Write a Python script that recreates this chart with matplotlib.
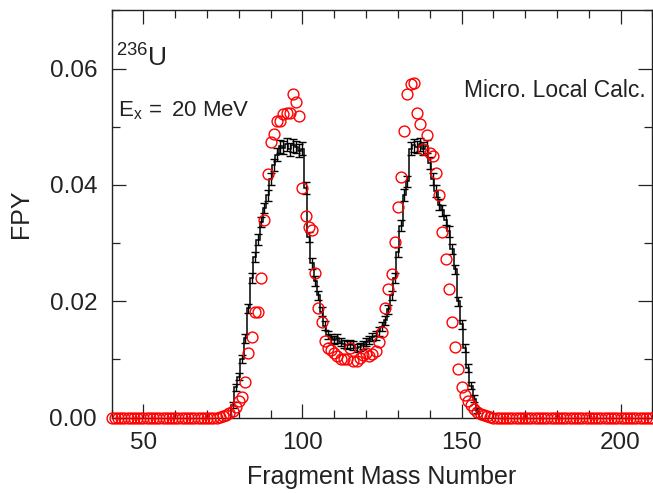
#!/usr/bin/env python3
import numpy as np
import matplotlib.pyplot as plt

plt.rcParams['font.family'] = ['Liberation Sans', 'DejaVu Sans']
plt.rcParams['mathtext.fontset'] = 'custom'
plt.rcParams['mathtext.rm'] = 'Liberation Sans'
plt.rcParams['mathtext.it'] = 'Liberation Sans:italic'

# microscopic local calculation, one value per mass number 40..210
calc_mass = np.arange(40, 211)
calc_nonzero = {
    74: 0.0001, 75: 0.0002, 76: 0.0004, 77: 0.0007, 78: 0.0011,
    79: 0.0018, 80: 0.0028, 81: 0.0036, 82: 0.0061, 83: 0.0111,
    84: 0.0139, 85: 0.0181, 86: 0.0181, 87: 0.0240, 88: 0.0339,
    89: 0.0418, 90: 0.0473, 91: 0.0487, 92: 0.0510, 93: 0.0510,
    94: 0.0521, 95: 0.0523, 96: 0.0524, 97: 0.0557, 98: 0.0543,
    99: 0.0518, 100: 0.0394, 101: 0.0347, 102: 0.0327, 103: 0.0322,
    104: 0.0248, 105: 0.0189, 106: 0.0164, 107: 0.0131, 108: 0.0120,
    109: 0.0116, 110: 0.0111, 111: 0.0105, 112: 0.0101, 113: 0.0100,
    114: 0.0100, 115: 0.0120, 116: 0.0098, 117: 0.0097, 118: 0.0102,
    119: 0.0108, 120: 0.0111, 121: 0.0106, 122: 0.0110, 123: 0.0114,
    124: 0.0130, 125: 0.0147, 126: 0.0188, 127: 0.0221, 128: 0.0247,
    129: 0.0301, 130: 0.0362, 131: 0.0413, 132: 0.0492, 133: 0.0556,
    134: 0.0573, 135: 0.0575, 136: 0.0524, 137: 0.0504, 138: 0.0462,
    139: 0.0485, 140: 0.0454, 141: 0.0450, 142: 0.0421, 143: 0.0383,
    144: 0.0319, 145: 0.0272, 146: 0.0221, 147: 0.0164, 148: 0.0122,
    149: 0.0083, 150: 0.0053, 151: 0.0038, 152: 0.0028, 153: 0.0021,
    154: 0.0014, 155: 0.0010, 156: 0.0006, 157: 0.0004, 158: 0.0002,
    159: 0.0001,
}
calc_fpy = np.array([calc_nonzero.get(a, 0.0) for a in calc_mass])

# reference histogram with uncertainties, mass numbers 78..155
ref_mass = np.arange(78, 156)
ref_fpy = np.array([
    0.0022, 0.0052, 0.0070, 0.0100, 0.0136, 0.0188, 0.0240, 0.0276,
    0.0306, 0.0336, 0.0360, 0.0382, 0.0410, 0.0434, 0.0452, 0.0466,
    0.0464, 0.0470, 0.0461, 0.0468, 0.0465, 0.0459, 0.0462, 0.0395,
    0.0310, 0.0265, 0.0235, 0.0210, 0.0182, 0.0158, 0.0142, 0.0136,
    0.0134, 0.0136, 0.0130, 0.0126, 0.0125, 0.0127, 0.0124, 0.0120,
    0.0122, 0.0125, 0.0130, 0.0134, 0.0138, 0.0141, 0.0148, 0.0156,
    0.0167, 0.0186, 0.0210, 0.0240, 0.0285, 0.0330, 0.0383, 0.0406,
    0.0462, 0.0468, 0.0465, 0.0470, 0.0462, 0.0466, 0.0438, 0.0410,
    0.0390, 0.0366, 0.0356, 0.0340, 0.0320, 0.0290, 0.0255, 0.0200,
    0.0160, 0.0120, 0.0085, 0.0055, 0.0032, 0.0012,
])
ref_err = np.array([
    0.0005, 0.0006, 0.0006, 0.0007, 0.0007, 0.0008, 0.0008, 0.0008,
    0.0009, 0.0009, 0.0009, 0.0009, 0.0010, 0.0010, 0.0011, 0.0011,
    0.0011, 0.0011, 0.0011, 0.0011, 0.0011, 0.0011, 0.0011, 0.0010,
    0.0009, 0.0009, 0.0009, 0.0008, 0.0008, 0.0008, 0.0007, 0.0007,
    0.0007, 0.0007, 0.0007, 0.0007, 0.0007, 0.0007, 0.0007, 0.0007,
    0.0007, 0.0007, 0.0007, 0.0007, 0.0007, 0.0007, 0.0007, 0.0008,
    0.0008, 0.0008, 0.0008, 0.0009, 0.0009, 0.0009, 0.0010, 0.0010,
    0.0011, 0.0011, 0.0011, 0.0011, 0.0011, 0.0011, 0.0010, 0.0010,
    0.0010, 0.0009, 0.0009, 0.0009, 0.0009, 0.0009, 0.0008, 0.0008,
    0.0008, 0.0007, 0.0007, 0.0006, 0.0006, 0.0005,
])

fig = plt.figure(figsize=(6.53, 4.93), dpi=100)
ax = fig.add_axes([0.171, 0.153, 0.828, 0.826])

edges = np.append(ref_mass - 0.5, ref_mass[-1] + 0.5)
ax.stairs(ref_fpy, edges, baseline=0, color='black', linewidth=1.1, zorder=2)
ax.errorbar(ref_mass, ref_fpy, yerr=ref_err, fmt='none', ecolor='black',
            elinewidth=1.0, capsize=2.9, capthick=1.0, zorder=2)

ax.plot(calc_mass, calc_fpy, 'o', mfc='none', mec='red', ms=7.8, mew=1.0,
        clip_on=False, zorder=3)

ax.set_xlim(40, 210)
ax.set_ylim(0, 0.07)
ax.set_xticks([50, 100, 150, 200])
ax.set_xticks(np.arange(40, 211, 10), minor=True)
ax.set_yticks([0.00, 0.02, 0.04, 0.06])
ax.set_yticks(np.arange(0, 0.0701, 0.01), minor=True)
ax.set_yticklabels(['0.00', '0.02', '0.04', '0.06'])

ax.tick_params(which='both', direction='in', top=True, right=True,
               labelsize=17.5, pad=10.5, width=0.9, color='#222222',
               labelcolor='#222222')
ax.tick_params(which='major', length=10)
ax.tick_params(which='minor', length=5.5)
for s in ax.spines.values():
    s.set_linewidth(1.0)
    s.set_color('#222222')

ax.set_xlabel('Fragment Mass Number', fontsize=18, color='#222222', labelpad=8)
ax.set_ylabel('FPY', fontsize=18, color='#222222', labelpad=12)

ax.text(41.5, 0.0603, r'$^{236}\mathrm{U}$', fontsize=19, color='#222222')
ax.text(42, 0.0518, r'$\mathrm{E}_{\mathrm{x}}\,\mathrm{=\ 20\ MeV}$',
        fontsize=16, color='#222222')
ax.text(208, 0.0551, 'Micro. Local Calc.', fontsize=16.5, ha='right',
        color='#222222')

fig.savefig('out.png', dpi=100)
